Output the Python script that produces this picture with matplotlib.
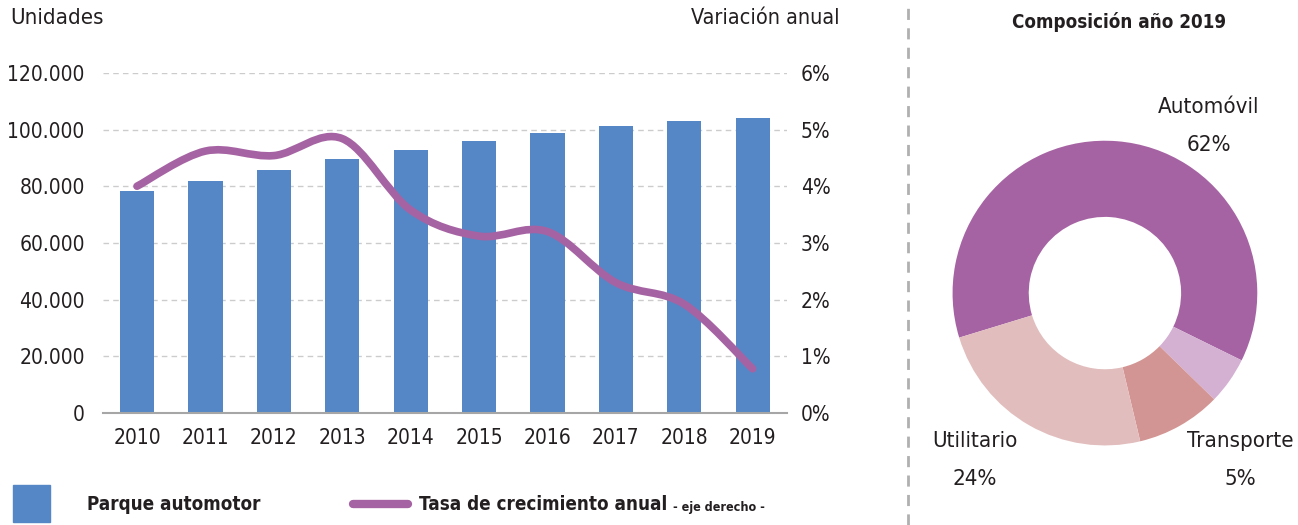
"""Parque automotor: bar + smoothed growth-rate line, plus 2019 composition donut."""

import matplotlib
matplotlib.use("Agg")
import matplotlib.pyplot as plt
import numpy as np
from matplotlib.lines import Line2D
from matplotlib.patches import PathPatch, Rectangle
from matplotlib.path import Path
from matplotlib.ticker import FuncFormatter

# -- Data -----------------------------------------------------------------
years = ["2010", "2011", "2012", "2013", "2014", "2015", "2016", "2017", "2018", "2019"]
parque = [78200, 81800, 85600, 89700, 92900, 95800, 98900, 101200, 103100, 103900]
tasa = [4.0, 4.62, 4.54, 4.84, 3.58, 3.12, 3.2, 2.3, 1.92, 0.78]

comp_labels = ["Automóvil", "", "Transporte", "Utilitario"]
comp_values = [62, 5, 9, 24]
comp_pct = ["62%", "", "5%", "24%"]

# -- Palette --------------------------------------------------------------
_TXT = "#231f20"
_BLUE = "#5587c6"
_PURPLE = "#a663a3"
_GRID = "#cccccc"
_AXIS = "#a6a6a6"
_DONUT = ["#a663a3", "#d4b0d3", "#d39593", "#e2bdbd"]

FONT = dict(family="DejaVu Sans", stretch="condensed")


def _smooth_path(xs, ys):
    """Catmull-Rom style Bezier path through the points (like Excel smoothing)."""
    pts = np.column_stack([xs, ys]).astype(float)
    ext = np.vstack([pts[0], pts, pts[-1]])
    verts = [pts[0]]
    codes = [Path.MOVETO]
    for i in range(len(pts) - 1):
        p0, p1, p2, p3 = ext[i], ext[i + 1], ext[i + 2], ext[i + 3]
        verts += [p1 + (p2 - p0) / 6, p2 - (p3 - p1) / 6, p2]
        codes += [Path.CURVE4] * 3
    return Path(verts, codes)


fig = plt.figure(figsize=(12.98, 5.25), dpi=100, facecolor="white")

# -- Bars + line -------------------------------------------------------------
ax = fig.add_axes([0.0792, 0.2133, 0.527, 0.648])
x = np.arange(len(years))
ax.bar(x, parque, width=0.5, color=_BLUE, zorder=2)
ax.set_xlim(-0.5, len(years) - 0.5)
ax.set_ylim(0, 120000)
ax.set_yticks(range(0, 120001, 20000))
ax.yaxis.set_major_formatter(FuncFormatter(lambda v, _: f"{int(v):,}".replace(",", ".")))
ax.set_xticks(x)
ax.set_xticklabels(years)
ax.yaxis.grid(True, color=_GRID, linestyle=(0, (4, 3)), linewidth=1.0, zorder=0)
ax.set_axisbelow(True)
for s in ["top", "right", "left"]:
    ax.spines[s].set_visible(False)
ax.spines["bottom"].set_color(_AXIS)
ax.spines["bottom"].set_linewidth(1.5)
ax.tick_params(length=0, colors=_TXT, labelsize=15)
ax.tick_params(axis="y", pad=13)
ax.tick_params(axis="x", pad=11)
for lab in ax.get_xticklabels() + ax.get_yticklabels():
    lab.set_fontstretch("condensed")

ax2 = ax.twinx()
ax2.set_ylim(0, 6)
ax2.set_yticks(range(0, 7))
ax2.yaxis.set_major_formatter(FuncFormatter(lambda v, _: f"{int(v)}%"))
for s in ax2.spines.values():
    s.set_visible(False)
ax2.tick_params(length=0, colors=_TXT, labelsize=15, pad=10)
for lab in ax2.get_yticklabels():
    lab.set_fontstretch("condensed")
ax2.add_patch(PathPatch(_smooth_path(x, tasa), facecolor="none", edgecolor=_PURPLE,
                        linewidth=5.5, capstyle="round", joinstyle="round", zorder=3))

fig.text(0.008, 0.965, "Unidades", ha="left", va="center", fontsize=16, color=_TXT, **FONT)
fig.text(0.647, 0.965, "Variación anual", ha="right", va="center", fontsize=15.5, color=_TXT, **FONT)

# -- Separator -------------------------------------------------------------
fig.add_artist(Line2D([0.6995, 0.6995], [0.0, 1.0], color="#b0b0b0", linewidth=2,
                      linestyle=(0, (4, 3)), transform=fig.transFigure))

# -- Donut -----------------------------------------------------------------
axd = fig.add_axes([0.728, 0.137, 0.2465, 0.6095])
axd.pie(comp_values, colors=_DONUT, startangle=197, counterclock=False,
        wedgeprops=dict(width=0.5, edgecolor="none"))
axd.set_xlim(-1.05, 1.05)
axd.set_ylim(-1.05, 1.05)
axd.set_aspect("equal")
axd.axis("off")

label_pos = {0: (0.68, 1.22, 0.97), 2: (0.89, -0.97, -1.22), 3: (-0.855, -0.97, -1.22)}
for i, (lx, ly, py) in label_pos.items():
    axd.text(lx, ly, comp_labels[i], ha="center", va="center", fontsize=16,
             color=_TXT, clip_on=False, **FONT)
    axd.text(lx, py, comp_pct[i], ha="center", va="center", fontsize=16,
             color=_TXT, clip_on=False, **FONT)

fig.text(0.862, 0.958, "Composición año 2019", ha="center", va="center", fontsize=13.5,
         fontweight="bold", color=_TXT, **FONT)

# -- Legend ----------------------------------------------------------------
fig.add_artist(Rectangle((0.010, 0.006), 0.0285, 0.070, color=_BLUE,
                         transform=fig.transFigure))
fig.text(0.067, 0.040, "Parque automotor", ha="left", va="center", fontsize=13.5,
         fontweight="bold", color=_TXT, **FONT)
fig.add_artist(Line2D([0.272, 0.314], [0.040, 0.040], color=_PURPLE, linewidth=6,
                      solid_capstyle="round", transform=fig.transFigure))
t = fig.text(0.323, 0.040, "Tasa de crecimiento anual", ha="left", va="center",
             fontsize=13.5, fontweight="bold", color=_TXT, **FONT)
fig.canvas.draw()
bb = t.get_window_extent().transformed(fig.transFigure.inverted())
fig.text(bb.x1 + 0.004, 0.034, "- eje derecho -", ha="left", va="center", fontsize=9,
         fontweight="bold", color=_TXT, **FONT)

fig.savefig("out.png", dpi=100, facecolor="white")
